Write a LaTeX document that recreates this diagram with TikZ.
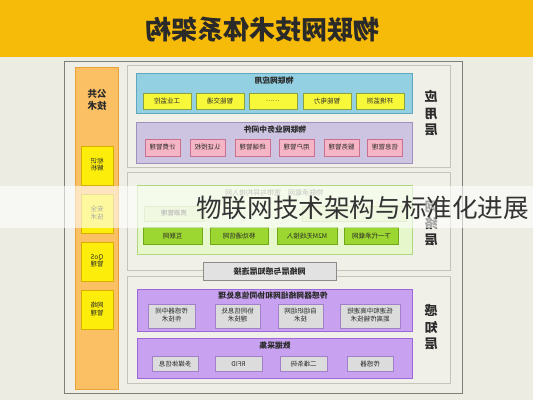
\documentclass[tikz,border=0pt]{standalone}
\usepackage{fontspec}
\usepackage{graphicx}
\setmainfont{Noto Sans CJK SC}
\definecolor{bgc}{HTML}{EDECE3}
\definecolor{titlec}{HTML}{F6BA08}
\definecolor{framec}{HTML}{7F7F78}
\definecolor{panelf}{HTML}{F1F0E8}
\definecolor{paneld}{HTML}{C4C4BA}
\definecolor{orangef}{HTML}{FAC063}
\definecolor{oranged}{HTML}{E8A23A}
\definecolor{subf}{HTML}{FCEE0A}
\definecolor{subd}{HTML}{D4B000}
\definecolor{bluef}{HTML}{92D0E2}
\definecolor{blued}{HTML}{60A8C0}
\definecolor{appf}{HTML}{F8F83A}
\definecolor{appd}{HTML}{8CA040}
\definecolor{lavf}{HTML}{CDC4E2}
\definecolor{lavd}{HTML}{A090C0}
\definecolor{pinkf}{HTML}{F5B5C5}
\definecolor{pinkd}{HTML}{C87090}
\definecolor{gpanf}{HTML}{E6F7CC}
\definecolor{gpand}{HTML}{B0D880}
\definecolor{gboxf}{HTML}{9CD630}
\definecolor{gboxd}{HTML}{70A818}
\definecolor{fadef}{HTML}{DCEFB8}
\definecolor{faded}{HTML}{BCD890}
\definecolor{barf}{HTML}{E2E2E2}
\definecolor{bard}{HTML}{8C8C8C}
\definecolor{purf}{HTML}{C8A2F0}
\definecolor{purd}{HTML}{9C68D8}
\definecolor{grayf}{HTML}{DCDCDC}
\definecolor{grayd}{HTML}{A080C8}
\definecolor{txt}{HTML}{2A2A2A}
\newcommand{\mr}[1]{\reflectbox{#1}}
\newcommand{\mrr}[1]{\reflectbox{\begin{tabular}{@{}c@{}}#1\end{tabular}}}
\begin{document}
\begin{tikzpicture}[x=1pt,y=-1pt,
  every node/.style={inner sep=0pt, text=txt},
  smalltxt/.style={font=\fontsize{6.5}{7.4}\selectfont},
  headtxt/.style={font=\fontsize{7.8}{8}\selectfont\bfseries},
  layertxt/.style={font=\fontsize{13}{16.5}\selectfont\bfseries},
  panel/.style={draw=paneld, fill=panelf, line width=0.8pt},
  appbox/.style={smalltxt, draw=appd, fill=appf, line width=0.8pt, minimum width=48pt, minimum height=16pt},
  pinkbox/.style={smalltxt, draw=pinkd, fill=pinkf, line width=0.8pt, minimum width=35pt, minimum height=17pt},
  gbox/.style={smalltxt, draw=gboxd, fill=gboxf, line width=0.8pt, minimum height=17pt},
  fbox/.style={smalltxt, draw=faded, fill=fadef, line width=0.6pt, minimum height=15pt},
  graybox/.style={smalltxt, draw=grayd, fill=grayf, line width=0.8pt},
  subbox/.style={font=\fontsize{6.5}{7.5}\selectfont, draw=subd, fill=subf, line width=0.8pt, minimum width=32pt, minimum height=39pt}
]
\useasboundingbox (0,0) rectangle (533,400);
\fill[bgc] (0,0) rectangle (533,400);
% title bar
\fill[titlec] (0,0) rectangle (533,57);
\node[font=\fontsize{26}{28}\selectfont\bfseries] (title) at (262,30) {\mr{物联网技术体系架构}};
% outer frame
\draw[framec, fill=panelf!60!bgc, line width=1pt] (64,61) rectangle (462,393);
% common technology column
\draw[oranged, fill=orangef, line width=0.8pt] (75,67) rectangle (118,389);
\node[font=\fontsize{9.5}{12}\selectfont\bfseries] (common) at (97,101) {\mrr{公共\\技术}};
\node[subbox] (s1) at (97,165.5) {\mrr{标识\\解析}};
\node[subbox] (s2) at (97,213.5) {\mrr{安全\\技术}};
\node[subbox] (s3) at (97,261.5) {\mrr{QoS\\管理}};
\node[subbox] (s4) at (97,309.5) {\mrr{网络\\管理}};
% layer panels
\draw[panel] (127,65) rectangle (450,167);
\draw[panel] (127,172) rectangle (450,270);
\draw[panel] (127,276) rectangle (450,383);
% application layer
\draw[draw=blued, fill=bluef, line width=0.8pt] (136,73) rectangle (412,113);
\node[headtxt] (apphead) at (274,81) {\mr{物联网应用}};
\node[appbox] (a1) at (167,101) {\mr{工业监控}};
\node[appbox] (a2) at (220,101) {\mr{智能交通}};
\node[appbox] (a3) at (273,101) {\mr{……}};
\node[appbox] (a4) at (327,101) {\mr{智能电力}};
\node[appbox] (a5) at (380,101) {\mr{环境监测}};
\draw[draw=lavd, fill=lavf, line width=0.8pt] (136,122) rectangle (412,163);
\node[headtxt] (midhead) at (275,130) {\mr{物联网业务中间件}};
\node[pinkbox] (m1) at (162.5,147.5) {\mr{计费管理}};
\node[pinkbox] (m2) at (207.5,147.5) {\mr{认证授权}};
\node[pinkbox] (m3) at (252.5,147.5) {\mr{终端管理}};
\node[pinkbox] (m4) at (296.5,147.5) {\mr{用户管理}};
\node[pinkbox] (m5) at (341.5,147.5) {\mr{服务管理}};
\node[pinkbox] (m6) at (385,147.5) {\mr{信息管理}};
\node[layertxt] (lapp) at (431,115) {\mrr{应\\用\\层}};
% network layer
\draw[draw=gpand, fill=gpanf, line width=0.8pt] (137,185) rectangle (412,254);
\node[font=\fontsize{7}{8}\selectfont, text=txt!70] (nethead) at (274,193) {\mr{物联承载网\quad 宽带与异构接入网}};
\node[fbox, minimum width=60pt] (f1) at (174,213.5) {\mr{资源管理}};
\node[fbox, minimum width=104pt] (f2) at (354,213.5) {};
\node[gbox, minimum width=59pt] (n1) at (172.5,236) {\mr{互联网}};
\node[gbox, minimum width=58pt] (n2) at (239,236) {\mr{移动通信网}};
\node[gbox, minimum width=60pt] (n3) at (307,236) {\mr{M2M无线接入}};
\node[gbox, minimum width=54pt] (n4) at (371.5,236) {\mr{下一代承载网}};
\node[layertxt] (lnet) at (431,225) {\mrr{网\\络\\层}};
\node[font=\fontsize{8}{9}\selectfont\bfseries, draw=bard, fill=barf, line width=0.8pt, minimum width=133pt, minimum height=18pt] (bar) at (269.5,271) {\mr{网络层与感知层连接}};
% sensing layer
\draw[draw=purd, fill=purf, line width=0.8pt] (137,289) rectangle (412,331);
\node[headtxt] (senhead) at (273,296) {\mr{传感器网络组网和协同信息处理}};
\node[graybox, minimum width=47pt, minimum height=24pt] (p1) at (171.5,316) {\mrr{传感器中间\\件技术}};
\node[graybox, minimum width=45pt, minimum height=24pt] (p2) at (237.5,316) {\mrr{协同信息处\\理技术}};
\node[graybox, minimum width=45pt, minimum height=24pt] (p3) at (300.5,316) {\mrr{自组织组网\\技术}};
\node[graybox, minimum width=60pt, minimum height=24pt] (p4) at (370,316) {\mrr{低速和中高速短\\距离传输技术}};
\draw[draw=purd, fill=purf, line width=0.8pt] (137,338) rectangle (412,378);
\node[headtxt] (datahead) at (275,346) {\mr{数据采集}};
\node[graybox, minimum width=46pt, minimum height=15pt] (d1) at (175,364) {\mr{多媒体信息}};
\node[graybox, minimum width=47pt, minimum height=15pt] (d2) at (238.5,364) {\mr{RFID}};
\node[graybox, minimum width=47pt, minimum height=15pt] (d3) at (303.5,364) {\mr{二维条码}};
\node[graybox, minimum width=46pt, minimum height=15pt] (d4) at (370,364) {\mr{传感器}};
\node[layertxt] (lsen) at (431,329) {\mrr{感\\知\\层}};
% overlay banner
\fill[white, opacity=0.6] (0,186) rectangle (533,228);
\node[font=\fontsize{25.6}{27}\selectfont, text=black!80, anchor=west] (banner) at (196,208) {物联网技术架构与标准化进展};
\end{tikzpicture}
\end{document}
